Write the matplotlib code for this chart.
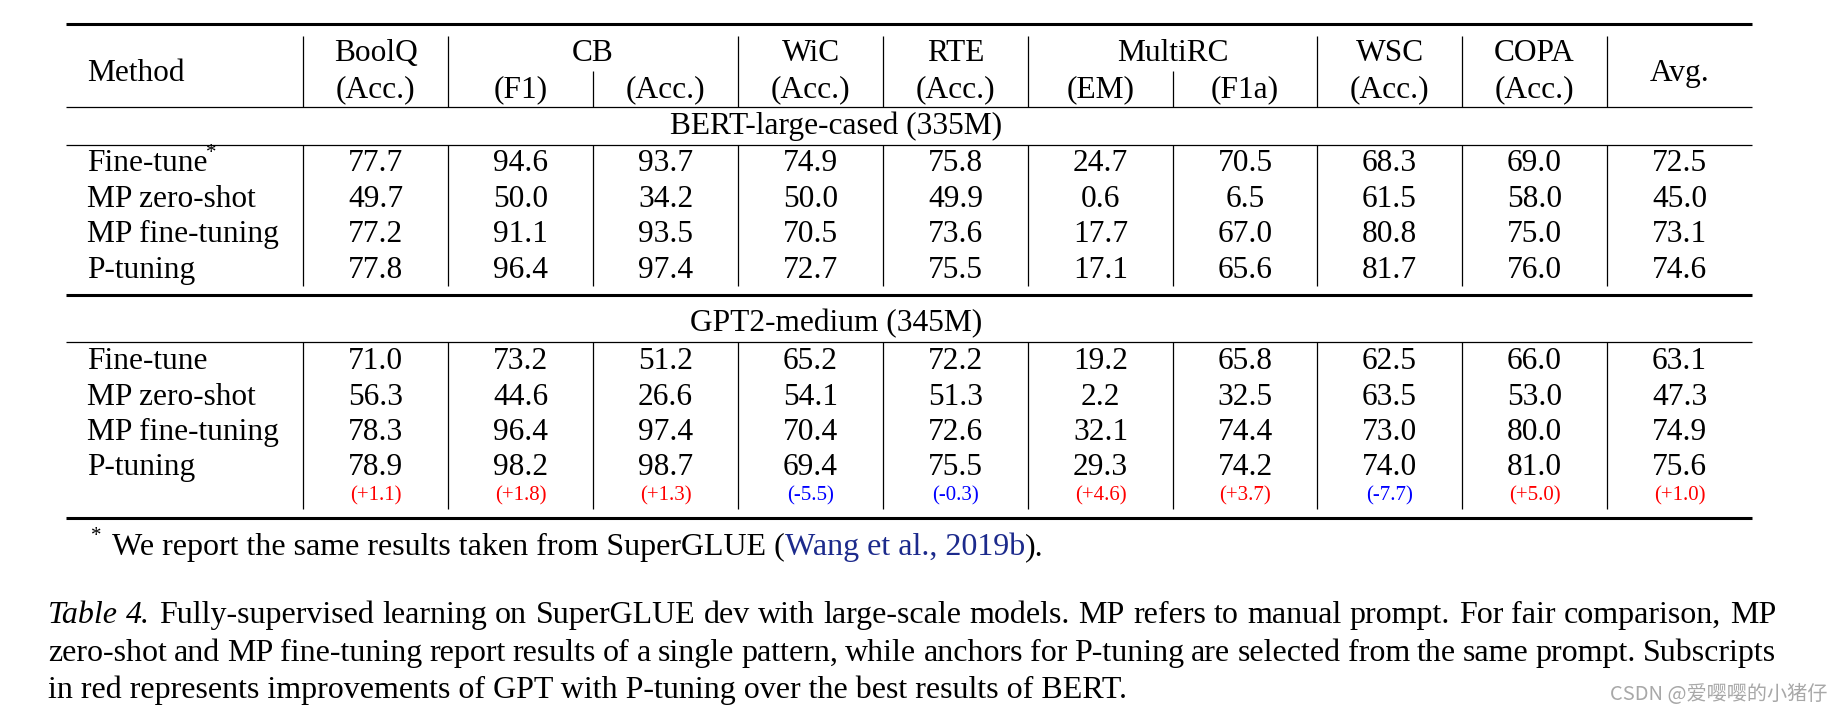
import matplotlib
matplotlib.use("Agg")
import matplotlib.pyplot as plt

SERIF = "Liberation Serif"
CJK = ["Noto Sans CJK SC", "DejaVu Sans"]

METHODS = ["Fine-tune", "MP zero-shot", "MP fine-tuning", "P-tuning"]
TASKS = ["BoolQ", "CB", "WiC", "RTE", "MultiRC", "WSC", "COPA"]
TASK_SPANS = [1, 2, 1, 1, 2, 1, 1]
METRICS = ["(Acc.)", "(F1)", "(Acc.)", "(Acc.)", "(Acc.)", "(EM)", "(F1a)", "(Acc.)", "(Acc.)"]

BERT_SCORES = [
    [77.7, 94.6, 93.7, 74.9, 75.8, 24.7, 70.5, 68.3, 69.0, 72.5],
    [49.7, 50.0, 34.2, 50.0, 49.9, 0.6, 6.5, 61.5, 58.0, 45.0],
    [77.2, 91.1, 93.5, 70.5, 73.6, 17.7, 67.0, 80.8, 75.0, 73.1],
    [77.8, 96.4, 97.4, 72.7, 75.5, 17.1, 65.6, 81.7, 76.0, 74.6],
]
GPT_SCORES = [
    [71.0, 73.2, 51.2, 65.2, 72.2, 19.2, 65.8, 62.5, 66.0, 63.1],
    [56.3, 44.6, 26.6, 54.1, 51.3, 2.2, 32.5, 63.5, 53.0, 47.3],
    [78.3, 96.4, 97.4, 70.4, 72.6, 32.1, 74.4, 73.0, 80.0, 74.9],
    [78.9, 98.2, 98.7, 69.4, 75.5, 29.3, 74.2, 74.0, 81.0, 75.6],
]
GPT_GAINS = [1.1, 1.8, 1.3, -5.5, -0.3, 4.6, 3.7, -7.7, 5.0, 1.0]

CAPTION_LINES = [
    [("Table", "italic"), ("4.", "italic")] + [(w, "normal") for w in
        "Fully-supervised learning on SuperGLUE dev with large-scale models. MP refers to "
        "manual prompt. For fair comparison, MP".split()],
    [(w, "normal") for w in
        "zero-shot and MP fine-tuning report results of a single pattern, while anchors for "
        "P-tuning are selected from the same prompt. Subscripts".split()],
]
CAPTION_LAST = "in red represents improvements of GPT with P-tuning over the best results of BERT."

# layout (pixels)
W, H = 1842, 717
LEFT, RIGHT = 66, 1752
EDGES = [303, 448, 593, 738, 883, 1028, 1173, 1317, 1462, 1607, 1752]
TEXT_PT = 22.6
SUB_PT = 15
NOTE_PT = 23.0
CAP_PT = 23.0
BERT_ROWS = [160.5, 196, 231.5, 267]
GPT_ROWS = [358.3, 394, 429, 464.3]


def px(pt):
    return pt * 100 / 72


def put(ax, x, y_center, s, size=TEXT_PT, ha="center", **kw):
    # y_center is the middle of digit/cap height
    return ax.text(x, y_center + 0.338 * px(size), s, fontsize=size, family=SERIF,
                   ha=ha, va="baseline", **kw)


def draw_rows(ax, rows_y, scores, renderer, star_first=False):
    centers = [(a + b) / 2 for a, b in zip(EDGES[:-1], EDGES[1:])]
    for y, method, vals in zip(rows_y, METHODS, scores):
        t = put(ax, 87, y, method, ha="left")
        if star_first and method == "Fine-tune":
            w = t.get_window_extent(renderer).width
            put(ax, 87 + w + 4, y - 10, "*", size=15)
            star_first = False
        for x, v in zip(centers, vals):
            put(ax, x, y, f"{v:.1f}")


def justify(ax, words, y, x0, x1, size, renderer):
    texts = [ax.text(0, y, w, fontsize=size, family=SERIF, fontstyle=st,
                     ha="left", va="baseline") for w, st in words]
    widths = [t.get_window_extent(renderer).width for t in texts]
    gap = (x1 - x0 - sum(widths)) / (len(texts) - 1)
    x = x0
    for t, w in zip(texts, widths):
        t.set_x(x)
        x += w + gap


fig = plt.figure(figsize=(W / 100, H / 100), dpi=100)
ax = fig.add_axes([0, 0, 1, 1])
ax.set_xlim(0, W)
ax.set_ylim(H, 0)
ax.axis("off")
renderer = fig.canvas.get_renderer()

# rules
thick, thin = 2.2, 0.9
ax.hlines([24, 295, 518], LEFT, RIGHT, colors="black", lw=thick)
ax.hlines([107, 145, 342], LEFT, RIGHT, colors="black", lw=thin)

# vertical lines
sub_edges = [593, 1173]
main_edges = [e for e in EDGES[:-1] if e not in sub_edges]
ax.vlines(main_edges, 36, 107, colors="black", lw=thin)
ax.vlines(sub_edges, 71, 107, colors="black", lw=thin)
ax.vlines(EDGES[:-1], 145, 286, colors="black", lw=thin)
ax.vlines(EDGES[:-1], 342, 509, colors="black", lw=thin)

# header
put(ax, 87, 70, "Method", ha="left")
col = 0
for task, span in zip(TASKS, TASK_SPANS):
    put(ax, (EDGES[col] + EDGES[col + span]) / 2, 50, task)
    col += span
for i, m in enumerate(METRICS):
    put(ax, (EDGES[i] + EDGES[i + 1]) / 2, 87, m)
put(ax, (EDGES[-2] + EDGES[-1]) / 2, 70, "Avg.")

put(ax, 836, 123, "BERT-large-cased (335M)")
put(ax, 836, 321, "GPT2-medium (345M)")

draw_rows(ax, BERT_ROWS, BERT_SCORES, renderer, star_first=True)
draw_rows(ax, GPT_ROWS, GPT_SCORES, renderer)

centers = [(a + b) / 2 for a, b in zip(EDGES[:-1], EDGES[1:])]
for x, g in zip(centers, GPT_GAINS):
    put(ax, x, 493.5, f"({g:+.1f})", size=SUB_PT, color="#ff0000" if g > 0 else "#0000ff")

# footnote
ax.text(96, 541, "*", fontsize=15, family=SERIF, ha="center", va="baseline")
x = 112
for piece, color in [("We report the same results taken from SuperGLUE (", "black"),
                     ("Wang et al., 2019b", "#1c2a8c"), (").", "black")]:
    t = ax.text(x, 555, piece, fontsize=NOTE_PT, family=SERIF, color=color,
                ha="left", va="baseline")
    x += t.get_window_extent(renderer).width

# caption
for words, y in zip(CAPTION_LINES, [623, 661]):
    justify(ax, words, y, 48, 1776, CAP_PT, renderer)
ax.text(48, 698, CAPTION_LAST, fontsize=CAP_PT, family=SERIF, ha="left", va="baseline")

# watermark
ax.text(1827, 694, "CSDN @爱嘤嘤的小猪仔", fontsize=14.5, family=CJK, color="#a8a8a8",
        ha="right", va="center")

fig.savefig("out.png", dpi=100)
